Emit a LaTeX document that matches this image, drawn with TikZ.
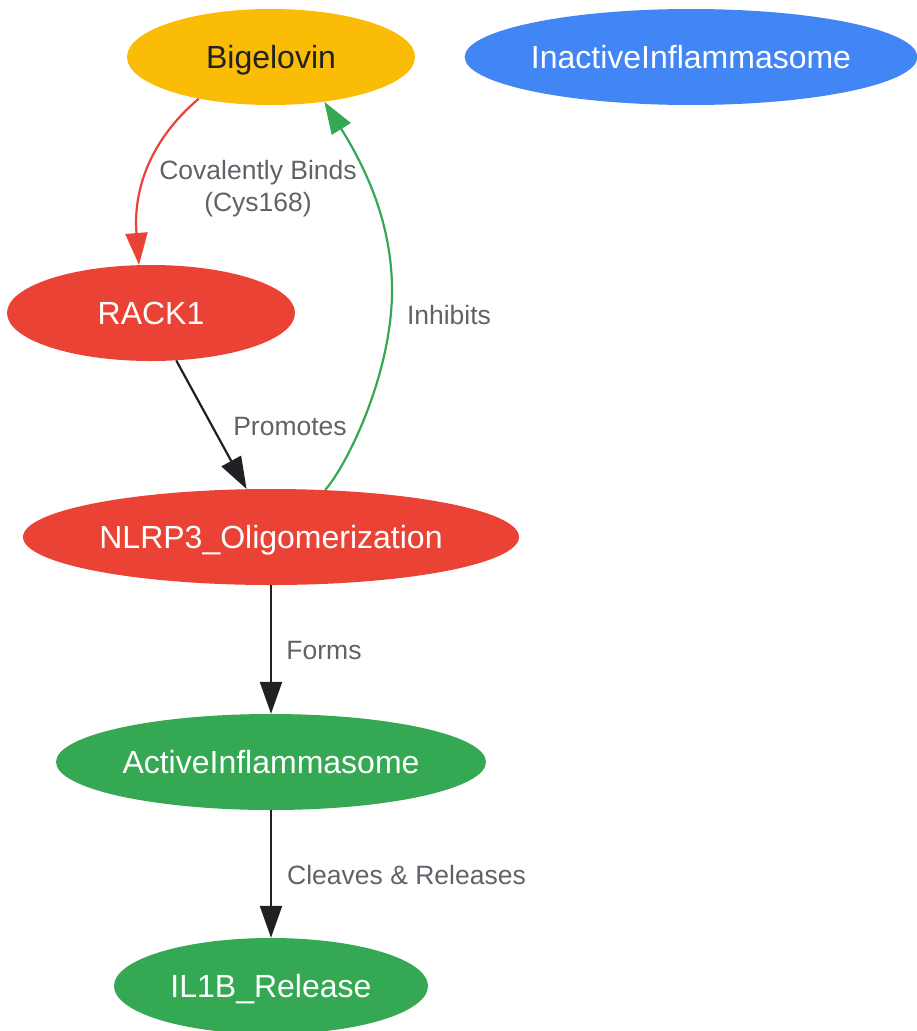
\documentclass[tikz,border=0pt]{standalone}
\usepackage{fontspec}
\setmainfont{Liberation Sans}
\usetikzlibrary{shapes.geometric,arrows.meta}
\definecolor{cyellow}{HTML}{FBBC05}
\definecolor{cblue}{HTML}{4285F4}
\definecolor{cred}{HTML}{EA4335}
\definecolor{cgreen}{HTML}{34A853}
\definecolor{cdark}{HTML}{202124}
\definecolor{clabel}{HTML}{5F6368}
\tikzset{
  ell/.style={ellipse, inner sep=0pt, minimum height=96pt, text=white,
    font=\fontsize{32}{36}\selectfont, text height=30pt, text depth=8pt},
  elab/.style={text=clabel, font=\fontsize{26.5}{32}\selectfont, inner sep=0pt, align=center},
  conn/.style={line width=2.2pt, -{Triangle[length=32pt,width=22pt]}},
}
\begin{document}
\begin{tikzpicture}[x=1pt,y=-1pt]
\useasboundingbox (0,0) rectangle (916,1031);
\node[ell, fill=cyellow, text=cdark, minimum width=288pt] (big) at (271,57) {Bigelovin};
\node[ell, fill=cblue, minimum width=452pt] (inact) at (691,57) {InactiveInflammasome};
\node[ell, fill=cred, minimum width=288pt] (rack) at (151,313) {RACK1};
\node[ell, fill=cred, minimum width=496pt] (nl) at (271,537) {NLRP3\_Oligomerization};
\node[ell, fill=cgreen, minimum width=430pt] (act) at (271,762) {ActiveInflammasome};
\node[ell, fill=cgreen, minimum width=314pt] (il) at (271,986) {IL1B\_Release};

\draw[conn, draw=cred, -{Triangle[length=32pt,width=22pt,fill=cred]}]
  (big.210) .. controls (150,140) and (133,190) .. (rack.104);
\draw[conn, draw=cdark, -{Triangle[length=32pt,width=22pt,fill=cdark]}] (rack.-62) -- (nl.117);
\coordinate (gw) at (392,295);
\draw[conn, draw=cgreen, -{Triangle[length=32pt,width=22pt,fill=cgreen]}]
  (nl.41) .. controls (345,468) and (390,380) .. (gw) .. controls (393,230) and (370,175) .. (big.-40);
\draw[conn, draw=cdark, -{Triangle[length=32pt,width=22pt,fill=cdark]}] (nl) -- (act);
\draw[conn, draw=cdark, -{Triangle[length=32pt,width=22pt,fill=cdark]}] (act) -- (il);

\node[elab] (l1) at (258,189) {Covalently Binds\\(Cys168)};
\node[elab] (l2) at (290,427) {Promotes};
\node[elab] (l3) at (449,315) {Inhibits};
\node[elab] (l4) at (324,651) {Forms};
\node[elab, anchor=west] (l5) at (287,875) {Cleaves \& Releases};
\end{tikzpicture}
\end{document}
